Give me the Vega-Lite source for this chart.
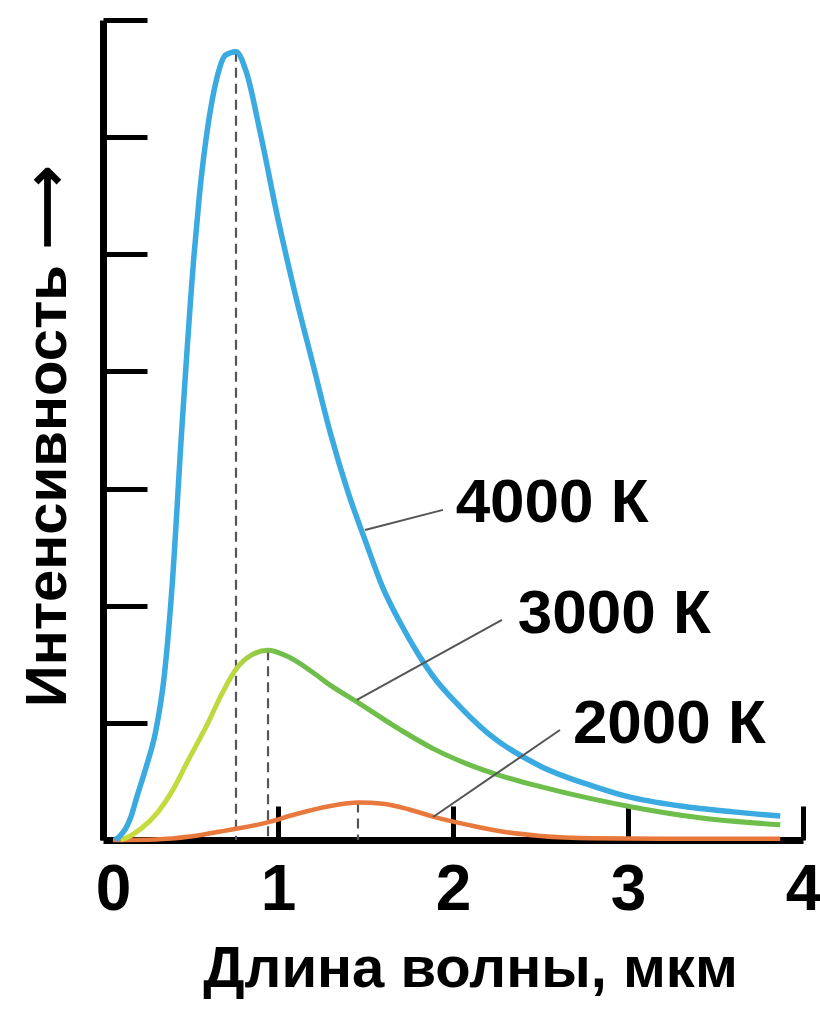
{
  "$schema": "https://vega.github.io/schema/vega-lite/v6.json",
  "width": 700,
  "height": 820,
  "autosize": {"type": "none"},
  "padding": {"left": 103, "top": 20, "right": 17, "bottom": 173},
  "background": "white",
  "config": {
    "view": {"stroke": null},
    "font": "Liberation Sans, Arial, sans-serif"
  },
  "datasets": {
    "blue": [
      {"lambda": 0.07, "intensity": 0}, {"lambda": 0.10, "intensity": 0.04}, {"lambda": 0.13, "intensity": 0.1},
      {"lambda": 0.16, "intensity": 0.2}, {"lambda": 0.194, "intensity": 0.37}, {"lambda": 0.25, "intensity": 0.64},
      {"lambda": 0.30, "intensity": 0.92}, {"lambda": 0.35, "intensity": 1.4}, {"lambda": 0.394, "intensity": 2.15},
      {"lambda": 0.45, "intensity": 3.5}, {"lambda": 0.52, "intensity": 4.99}, {"lambda": 0.55, "intensity": 5.49},
      {"lambda": 0.60, "intensity": 6.1}, {"lambda": 0.65, "intensity": 6.5}, {"lambda": 0.70, "intensity": 6.7},
      {"lambda": 0.76, "intensity": 6.73}, {"lambda": 0.82, "intensity": 6.55}, {"lambda": 0.897, "intensity": 6.05},
      {"lambda": 1.0, "intensity": 5.3}, {"lambda": 1.1, "intensity": 4.65}, {"lambda": 1.2, "intensity": 4.06},
      {"lambda": 1.3, "intensity": 3.47}, {"lambda": 1.4, "intensity": 2.97}, {"lambda": 1.5, "intensity": 2.55},
      {"lambda": 1.6, "intensity": 2.15}, {"lambda": 1.7, "intensity": 1.85}, {"lambda": 1.8, "intensity": 1.59},
      {"lambda": 1.9, "intensity": 1.37}, {"lambda": 2.0, "intensity": 1.2}, {"lambda": 2.2, "intensity": 0.91},
      {"lambda": 2.5, "intensity": 0.63}, {"lambda": 2.8, "intensity": 0.46}, {"lambda": 3.0, "intensity": 0.37},
      {"lambda": 3.3, "intensity": 0.29}, {"lambda": 3.6, "intensity": 0.24}, {"lambda": 3.87, "intensity": 0.205}
    ],
    "green": [
      {"lambda": 0.10, "intensity": 0}, {"lambda": 0.15, "intensity": 0.03}, {"lambda": 0.22, "intensity": 0.10},
      {"lambda": 0.309, "intensity": 0.23}, {"lambda": 0.40, "intensity": 0.43}, {"lambda": 0.48, "intensity": 0.66},
      {"lambda": 0.60, "intensity": 1.0}, {"lambda": 0.68, "intensity": 1.25}, {"lambda": 0.766, "intensity": 1.47},
      {"lambda": 0.85, "intensity": 1.58}, {"lambda": 0.943, "intensity": 1.62}, {"lambda": 1.05, "intensity": 1.57},
      {"lambda": 1.20, "intensity": 1.43}, {"lambda": 1.30, "intensity": 1.32}, {"lambda": 1.451, "intensity": 1.18},
      {"lambda": 1.70, "intensity": 0.94}, {"lambda": 1.886, "intensity": 0.78}, {"lambda": 2.08, "intensity": 0.65},
      {"lambda": 2.27, "intensity": 0.55}, {"lambda": 2.46, "intensity": 0.47}, {"lambda": 2.65, "intensity": 0.40},
      {"lambda": 3.03, "intensity": 0.28}, {"lambda": 3.41, "intensity": 0.19}, {"lambda": 3.87, "intensity": 0.13}
    ],
    "orange": [
      {"lambda": 0.057, "intensity": 0}, {"lambda": 0.3, "intensity": 0.005}, {"lambda": 0.5, "intensity": 0.03},
      {"lambda": 0.7, "intensity": 0.08}, {"lambda": 0.94, "intensity": 0.15}, {"lambda": 1.1, "intensity": 0.22},
      {"lambda": 1.3, "intensity": 0.29}, {"lambda": 1.457, "intensity": 0.32}, {"lambda": 1.6, "intensity": 0.31},
      {"lambda": 1.75, "intensity": 0.26}, {"lambda": 1.886, "intensity": 0.2}, {"lambda": 2.1, "intensity": 0.125},
      {"lambda": 2.27, "intensity": 0.075}, {"lambda": 2.5, "intensity": 0.035}, {"lambda": 2.8, "intensity": 0.015},
      {"lambda": 3.3, "intensity": 0.01}, {"lambda": 3.87, "intensity": 0.01}
    ],
    "peaks": [
      {"series": "4000 К", "lambda": 0.76, "intensity": 6.73},
      {"series": "3000 К", "lambda": 0.943, "intensity": 1.62},
      {"series": "2000 К", "lambda": 1.457, "intensity": 0.32}
    ],
    "labels": [
      {"series": "4000 К", "x1": 1.497, "y1": 2.647, "x2": 1.943, "y2": 2.818, "lx": 2.015, "ly": 2.716},
      {"series": "3000 К", "x1": 1.451, "y1": 1.196, "x2": 2.28, "y2": 1.879, "lx": 2.37, "ly": 1.768},
      {"series": "2000 К", "x1": 1.886, "y1": 0.196, "x2": 2.611, "y2": 0.939, "lx": 2.685, "ly": 0.828}
    ]
  },
  "layer": [
    {
      "data": {"name": "peaks"},
      "mark": {"type": "rule", "color": "#555555", "strokeWidth": 2.2, "strokeDash": [10, 6]},
      "encoding": {
        "x": {
          "field": "lambda", "type": "quantitative",
          "scale": {"domain": [0, 4], "nice": false, "zero": false},
          "axis": {
            "title": "Длина волны, мкм",
            "values": [0, 1, 2, 3, 4],
            "format": "d",
            "grid": false,
            "domainColor": "black", "domainWidth": 7,
            "tickColor": "black", "tickWidth": 5, "tickSize": -34,
            "labelFontSize": 64, "labelFontWeight": "bold", "labelColor": "black",
            "labelPadding": 52, "labelBaseline": "top", "labelFlush": false, "labelOverlap": false,
            "labelAlign": "center",
            "labelOffset": {"condition": {"test": "datum.value === 0", "value": 10}, "value": 0},
            "titleFontSize": 58, "titleFontWeight": "bold", "titleColor": "black",
            "titleX": 367, "titleY": 146, "titleAlign": "center", "titleBaseline": "alphabetic"
          }
        },
        "y": {
          "field": "intensity", "type": "quantitative",
          "scale": {"domain": [0, 7], "nice": false},
          "axis": {
            "title": "Интенсивность ⟶",
            "values": [1, 2, 3, 4, 5, 6, 7],
            "labels": false,
            "grid": false,
            "domainColor": "black", "domainWidth": 7,
            "tickColor": "black", "tickWidth": 5, "tickSize": -44,
            "titleFontSize": 58, "titleFontWeight": "bold", "titleColor": "black",
            "titleAngle": -90, "titleX": -38, "titleY": 416, "titleAlign": "center", "titleBaseline": "alphabetic"
          }
        },
        "y2": {"datum": 0}
      }
    },
    {
      "data": {"name": "orange"},
      "mark": {"type": "line", "color": "#e8783c", "strokeWidth": 4.5, "interpolate": "monotone"},
      "encoding": {
        "x": {"field": "lambda", "type": "quantitative", "scale": {"domain": [0, 4], "nice": false, "zero": false}},
        "y": {"field": "intensity", "type": "quantitative", "scale": {"domain": [0, 7], "nice": false}}
      }
    },
    {
      "data": {"name": "green"},
      "mark": {
        "type": "line", "strokeWidth": 5, "interpolate": "monotone",
        "color": {
          "gradient": "linear", "x1": 0, "y1": 0, "x2": 1, "y2": 0,
          "stops": [
            {"offset": 0, "color": "#c9dc3c"},
            {"offset": 0.17, "color": "#bcd841"},
            {"offset": 0.24, "color": "#6dbe4b"},
            {"offset": 1, "color": "#6dbe4b"}
          ]
        }
      },
      "encoding": {
        "x": {"field": "lambda", "type": "quantitative", "scale": {"domain": [0, 4], "nice": false, "zero": false}},
        "y": {"field": "intensity", "type": "quantitative", "scale": {"domain": [0, 7], "nice": false}}
      }
    },
    {
      "data": {"name": "blue"},
      "mark": {"type": "line", "color": "#3aaae1", "strokeWidth": 5.5, "interpolate": "monotone"},
      "encoding": {
        "x": {"field": "lambda", "type": "quantitative", "scale": {"domain": [0, 4], "nice": false, "zero": false}},
        "y": {"field": "intensity", "type": "quantitative", "scale": {"domain": [0, 7], "nice": false}}
      }
    },
    {
      "data": {"name": "labels"},
      "mark": {"type": "rule", "color": "#555555", "strokeWidth": 2},
      "encoding": {
        "x": {"field": "x1", "type": "quantitative", "scale": {"domain": [0, 4], "nice": false, "zero": false}},
        "y": {"field": "y1", "type": "quantitative", "scale": {"domain": [0, 7], "nice": false}},
        "x2": {"field": "x2"},
        "y2": {"field": "y2"}
      }
    },
    {
      "data": {"name": "labels"},
      "mark": {"type": "text", "fontSize": 62, "fontWeight": "bold", "color": "black", "align": "left", "baseline": "alphabetic"},
      "encoding": {
        "x": {"field": "lx", "type": "quantitative", "scale": {"domain": [0, 4], "nice": false, "zero": false}},
        "y": {"field": "ly", "type": "quantitative", "scale": {"domain": [0, 7], "nice": false}},
        "text": {"field": "series"}
      }
    }
  ]
}
